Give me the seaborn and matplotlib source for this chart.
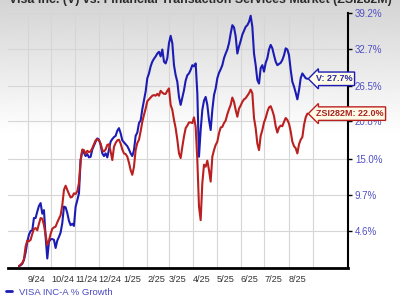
import numpy as np
import pandas as pd
import matplotlib
matplotlib.use("Agg")
import matplotlib.pyplot as plt
from matplotlib.lines import Line2D
import seaborn as sns

# ---------------- data (cumulative % growth) ----------------
visa_growth = [
    -0.1, 0.0, 0.2, 0.7, 1.7, 3.1, 4.1, 4.6, 4.7, 6.4,
    6.4, 7.3, 8.1, 8.5, 7.0, 7.5, 3.8, 0.9, 3.1, 3.5,
    3.5, 3.4, 2.3, 3.3, 3.8, 4.4, 5.7, 8.0, 7.9, 7.1,
    6.0, 5.4, 5.6, 5.3, 8.0, 8.9, 9.9, 14.8, 16.2, 15.9,
    15.4, 15.7, 15.2, 15.3, 16.4, 17.0, 17.6, 18.1, 17.9, 17.1,
    15.8, 15.4, 15.8, 15.2, 16.4, 17.6, 18.0, 18.3, 18.5, 19.3,
    19.7, 18.9, 17.8, 17.5, 17.2, 16.9, 16.4, 15.8, 15.4, 16.3,
    18.5, 19.0, 20.5, 20.9, 22.7, 24.1, 25.6, 27.8, 28.6, 29.8,
    30.6, 31.1, 31.5, 32.0, 32.3, 31.5, 32.7, 30.6, 30.3, 31.2,
    33.8, 35.1, 33.8, 30.0, 28.3, 27.2, 24.7, 23.4, 24.6, 25.8,
    27.4, 28.3, 28.6, 29.2, 30.0, 29.8, 30.3, 25.3, 15.3, 19.4,
    22.6, 24.1, 24.7, 23.4, 21.0, 19.4, 22.6, 25.0, 26.1, 27.8,
    28.7, 29.3, 30.0, 31.2, 32.0, 32.7, 33.8, 35.5, 37.0, 36.6,
    35.0, 32.0, 33.2, 34.2, 35.3, 36.0, 36.7, 37.0, 37.6, 38.7,
    36.7, 32.0, 30.0, 27.5, 26.9, 29.5, 30.0, 28.9, 30.4, 31.2,
    32.7, 33.5, 32.9, 31.7, 30.6, 30.0, 30.2, 30.4, 30.9, 31.7,
    32.9, 32.7, 31.7, 29.2, 27.2, 26.4, 25.4, 24.3, 25.8, 27.8,
    28.6, 28.2, 27.8, 27.7,
]
zsi_growth = [
    -0.1, 0.1, 0.3, 0.8, 2.5, 3.3, 3.2, 3.4, 4.2, 4.9,
    5.0, 4.7, 5.6, 6.4, 6.3, 5.4, 4.1, 2.7, 3.3, 4.2,
    4.9, 5.1, 5.2, 5.8, 6.3, 6.8, 8.2, 10.4, 11.0, 10.4,
    9.8, 9.3, 9.4, 9.9, 9.8, 10.2, 11.4, 14.8, 16.4, 16.3,
    15.7, 16.2, 16.0, 16.1, 16.6, 17.2, 17.8, 18.0, 17.8, 17.3,
    16.3, 16.1, 16.4, 17.1, 17.2, 16.1, 14.8, 16.8, 17.4, 17.8,
    17.9, 17.3, 16.4, 15.8, 15.7, 15.3, 14.4, 13.3, 12.6, 13.8,
    16.3, 17.4, 17.9, 19.2, 20.7, 21.8, 22.8, 24.0, 24.3, 24.6,
    24.9, 25.0, 24.9, 25.2, 24.9, 25.7, 25.4, 25.2, 25.2, 25.7,
    26.1, 23.4, 22.6, 21.0, 19.7, 17.9, 15.8, 15.1, 16.8, 18.4,
    19.7, 20.1, 20.6, 20.6, 20.5, 21.4, 19.9, 14.8, 8.0, 6.1,
    11.4, 14.1, 13.8, 14.7, 13.3, 11.6, 15.3, 16.3, 17.1, 17.6,
    18.9, 19.8, 19.9, 20.5, 20.9, 21.9, 22.7, 23.4, 24.6, 23.9,
    22.6, 21.5, 22.8, 23.3, 23.9, 24.3, 24.5, 24.9, 25.3, 25.9,
    25.3, 21.3, 19.7, 17.3, 16.3, 18.5, 19.4, 20.6, 21.3, 22.3,
    23.0, 23.2, 22.5, 21.6, 20.0, 19.0, 19.8, 20.1, 20.0, 20.7,
    21.3, 21.0, 20.4, 19.2, 17.6, 16.9, 16.6, 15.8, 17.2, 17.9,
    18.3, 20.2, 21.4, 22.0,
]
start_date = "2024-08-21"
end_date = "2025-08-25"
series_names = ["V", "ZSI282M"]
tick_months = pd.date_range("2024-09-01", "2025-09-01", freq="MS")
tick_labels = ["9/24", "10/24", "11/24", "12/24", "1/25", "2/25", "3/25",
               "4/25", "5/25", "6/25", "7/25", "8/25", ""]
y_ticks = [4.6, 9.7, 15.0, 20.8, 26.5, 32.7, 39.2]
legend_label = "VISA INC-A % Growth"
title_text = "Visa Inc. (V) vs. Financial Transaction Services Market (ZSI282M)"

# ---------------- build long-form table ----------------
frames = []
for name, vals in zip(series_names, [visa_growth, zsi_growth]):
    d = pd.date_range(start_date, end_date, periods=len(vals))
    frames.append(pd.DataFrame({"date": d, "growth": vals, "series": name}))
df = pd.concat(frames, ignore_index=True)

BLUE = "#1c1cb4"
RED = "#bb2020"
palette = {"V": BLUE, "ZSI282M": RED}

sns.set_theme(style="white")
plt.rcParams["font.family"] = ["Liberation Sans", "DejaVu Sans"]

fig = plt.figure(figsize=(4, 3), dpi=100)

# gradient background (gray at top fading to white)
bg = fig.add_axes([0, 0, 1, 1], zorder=-10)
rows = np.arange(300)
shade = np.clip(0.83 + 0.17 * rows / 135.0, 0, 1).reshape(-1, 1)
bg.imshow(np.repeat(shade, 4, axis=1), cmap="gray", vmin=0, vmax=1,
          aspect="auto", extent=[0, 1, 0, 1], origin="upper", interpolation="bilinear")
bg.axis("off")

ax = fig.add_axes([8 / 400, 32 / 300, 340 / 400, 255 / 300])
ax.patch.set_alpha(0)

sns.lineplot(data=df, x="date", y="growth", hue="series", hue_order=series_names,
             palette=palette, linewidth=1.5, legend=False, ax=ax)

ax.set_yscale("function", functions=(lambda v: np.log1p(np.asarray(v) / 100.0),
                                     lambda z: np.expm1(np.asarray(z)) * 100.0))
ax.set_ylim(-0.35, 39.2)
ax.set_xlim(pd.Timestamp("2024-08-07"), pd.Timestamp("2025-10-16"))

ax.yaxis.tick_right()
ax.set_yticks(y_ticks)
ax.set_yticklabels([f"{v:.1f}%" for v in y_ticks])
ax.minorticks_off()
ax.tick_params(axis="y", which="major", length=3, width=1, color="black",
               labelcolor="#5050c4", labelsize=7, pad=2, direction="out")

ax.set_xticks(tick_months)
ax.set_xticklabels(tick_labels)
for lab in ax.get_xticklabels():
    lab.set_horizontalalignment("left")
ax.tick_params(axis="x", length=0, labelsize=6.6, labelcolor="#333333", pad=5)

ax.set_xlabel("")
ax.set_ylabel("")
ax.grid(True, color="#d6d6d6", linewidth=0.8)
ax.set_axisbelow(True)

for s in ["left", "top"]:
    ax.spines[s].set_visible(False)
ax.spines["right"].set_color("black")
ax.spines["right"].set_linewidth(1.5)
ax.spines["bottom"].set_color("black")
ax.spines["bottom"].set_linewidth(2)

# end-of-line tags
for name, color, tcolor in [("V", BLUE, "#2a2aa0"), ("ZSI282M", RED, "#a82222")]:
    sub = df[df.series == name]
    last_d = sub["date"].iloc[-1]
    last_v = sub["growth"].iloc[-1]
    ax.annotate(f"{name}: {last_v:.1f}%", xy=(last_d, last_v), xytext=(6, 0),
                textcoords="offset points", ha="left", va="center",
                fontsize=6.5, fontweight="bold", color=tcolor, annotation_clip=False,
                bbox=dict(boxstyle="larrow,pad=0.25", fc="#fffbe6", ec=color, lw=1),
                zorder=10)

# legend
fig.legend(handles=[Line2D([0], [0], color=BLUE, lw=2)], labels=[legend_label],
           loc="center left", bbox_to_anchor=(0.015, 0.026), frameon=False,
           handlelength=0.6, handletextpad=0.8, fontsize=6.8, labelcolor="#4a4ac0",
           borderaxespad=0, borderpad=0)

# title, clipped at the very top as in the reference
t = fig.text(0.5, 1 - 2.5 / 300, title_text, ha="center", va="baseline",
             fontsize=9, color="#2a2a2a", fontweight="bold")
fig.canvas.draw()
w = t.get_window_extent().width
t.set_fontsize(9 * 382 / w)

fig.savefig("out.png", dpi=100)
